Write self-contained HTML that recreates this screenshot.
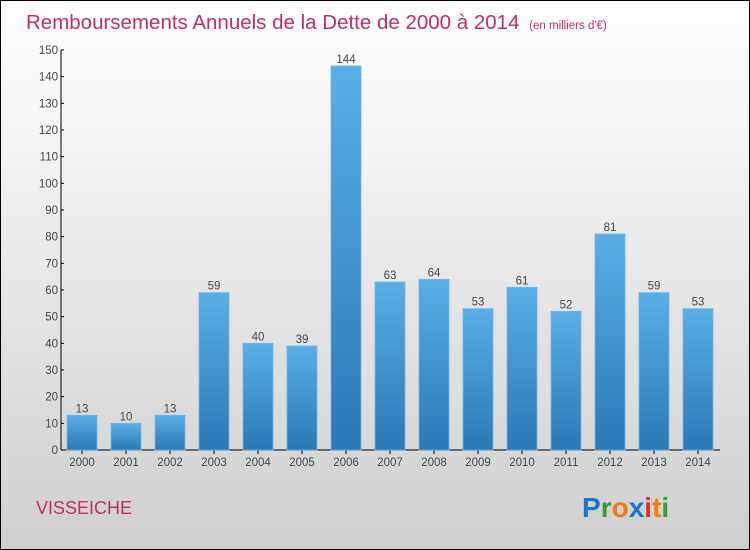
<!DOCTYPE html>
<html><head><meta charset="utf-8"><style>
body{margin:0}
#c{width:750px;height:550px;position:relative;box-sizing:border-box;border:1px solid #000;background:linear-gradient(#fff,#f4f4f4 25%,#cfcfcf);font-family:"Liberation Sans",sans-serif;overflow:hidden}
</style></head><body>
<div id="c">
<svg id="s" width="750" height="550" style="position:absolute;left:-1px;top:-1px">
<defs><linearGradient id="g" x1="0" y1="0" x2="0" y2="1"><stop offset="0" stop-color="#5aaee6"/><stop offset="1" stop-color="#2a78b6"/></linearGradient></defs>
<text x="26" y="29" font-size="20.5" fill="#c0305f">Remboursements Annuels de la Dette de 2000 à 2014 <tspan font-size="11.5" dx="4">(en milliers d'€)</tspan></text>
<text x="36" y="514" font-size="18" fill="#c0305f">VISSEICHE</text>
<g font-size="28" font-weight="bold" font-family="'Liberation Sans',sans-serif">
<text x="582" y="517"><tspan fill="#1a73c8">P</tspan><tspan fill="#3a9a3a">r</tspan><tspan fill="#f07a10">o</tspan><tspan fill="#1a73c8">x</tspan><tspan fill="#e03020">i</tspan><tspan fill="#f07a10">t</tspan><tspan fill="#3a9a3a">i</tspan></text></g>
<g id="axes"></g><g id="bars"></g>
</svg></div>
<script>
const years=["2000","2001","2002","2003","2004","2005","2006","2007","2008","2009","2010","2011","2012","2013","2014"];
const values=[13,10,13,59,40,39,144,63,64,53,61,52,81,59,53];
const yTicks=[0,10,20,30,40,50,60,70,80,90,100,110,120,130,140,150];
const NS="http://www.w3.org/2000/svg";
const y=v=>450-v*400/150, x=i=>82+i*44;
function mk(t,a,p){const e=document.createElementNS(NS,t);for(const k in a)e.setAttribute(k,a[k]);p.appendChild(e);return e;}
const ax=document.getElementById('axes'),bg=document.getElementById('bars');
let l=mk('line',{x1:61,y1:50,x2:61,y2:450,stroke:'#000'},ax);


l=mk('line',{x1:61,y1:450,x2:720,y2:450,stroke:'#000'},ax);


yTicks.forEach(v=>{mk('line',{x1:61,y1:y(v),x2:64,y2:y(v),stroke:'#000'},ax);
const t=mk('text',{x:58,y:y(v)+4,'font-size':11.5,fill:'#444','text-anchor':'end'},ax);t.textContent=v;

});
years.forEach((yr,i)=>{const v=values[i];
const r=mk('rect',{x:x(i)-15,y:y(v),width:30,height:450-y(v),fill:'url(#g)',stroke:'#6bb8ec','stroke-width':0.8},bg);


const t=mk('text',{x:x(i),y:y(v)-3,'font-size':11.5,fill:'#444','text-anchor':'middle'},bg);t.textContent=v;


mk('line',{x1:x(i),y1:450,x2:x(i),y2:454,stroke:'#000'},ax);
const xl=mk('text',{x:x(i),y:466,'font-size':11.5,fill:'#444','text-anchor':'middle'},ax);xl.textContent=yr;

});
</script></body></html>
